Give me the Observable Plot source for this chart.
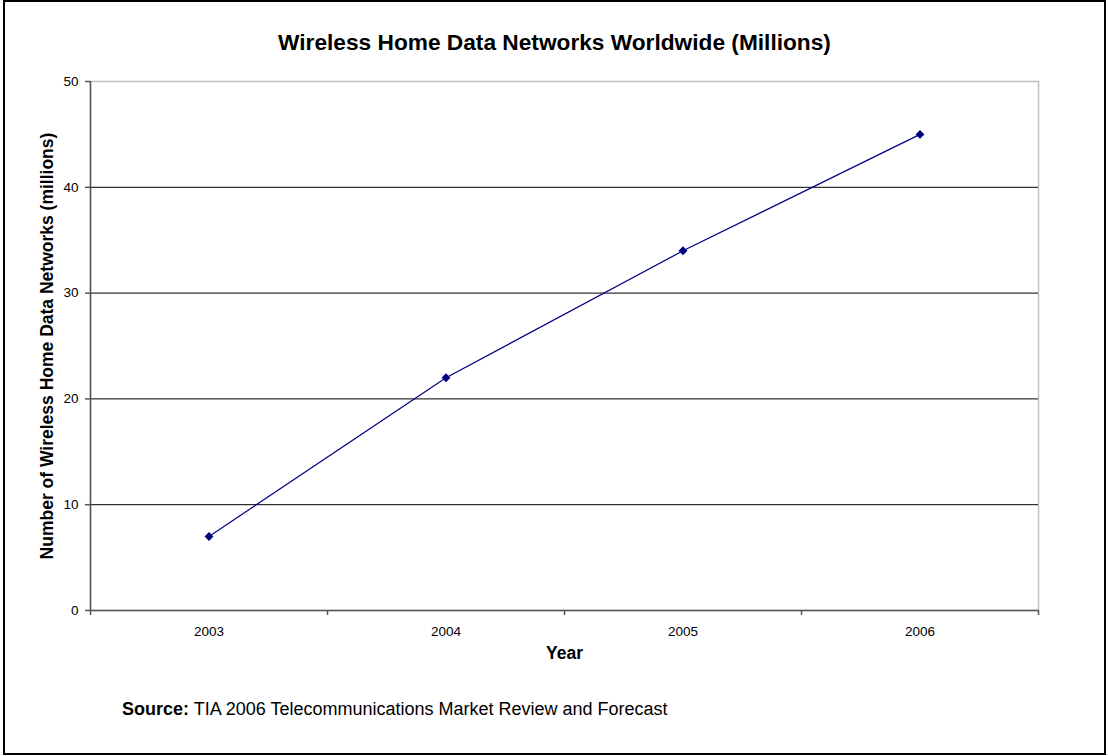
<!DOCTYPE html>
<html><head><meta charset="utf-8">
<script src="https://cdn.jsdelivr.net/npm/d3@7"></script>
<script src="https://cdn.jsdelivr.net/npm/@observablehq/plot@0.6"></script>
<style>
html,body{margin:0;padding:0;background:#fff;}
body{width:1109px;height:756px;position:relative;overflow:hidden;font-family:"Liberation Sans",Arial,sans-serif;color:#000;}
#frame{position:absolute;left:3px;top:0;width:1103px;height:755px;border:2px solid #000;box-sizing:border-box;}
#title{position:absolute;left:0;top:31px;width:1109px;text-align:center;font-weight:bold;font-size:22.7px;line-height:1;white-space:nowrap;}
#chart{position:absolute;left:0;top:60px;}
#source{position:absolute;left:122px;top:700px;font-size:18px;line-height:1;white-space:nowrap;}
</style>
</head><body>
<div id="frame"></div>
<div id="title">Wireless Home Data Networks Worldwide (Millions)</div>
<div id="chart"></div>
<div id="source"><b>Source:</b> TIA 2006 Telecommunications Market Review and Forecast</div>
<script>
const years = [2003, 2004, 2005, 2006];
const networks = [7, 22, 34, 45];
const yTicks = [0, 10, 20, 30, 40, 50];
const yLabel = "Number of Wireless Home Data Networks (millions)";
const xLabel = "Year";

const data = years.map((year, i) => ({year, value: networks[i]}));
const boundaries = [...years.map(y => y - 0.5), years[years.length - 1] + 0.5];
const axisColor = "#555";

const chart = Plot.plot({
  width: 1109, height: 620,
  marginTop: 21, marginBottom: 70, marginLeft: 90, marginRight: 71,
  style: {fontFamily: "Liberation Sans, Arial, sans-serif", fontSize: "13.5px", color: "#000", background: "transparent", overflow: "visible"},
  x: {type: "linear", domain: [boundaries[0], boundaries[boundaries.length - 1]], label: null},
  y: {domain: [yTicks[0], yTicks[yTicks.length - 1]], label: null},
  marks: [
    Plot.frame({stroke: "#c0c0c0", strokeWidth: 1.5}),
    Plot.ruleY(yTicks.slice(1, -1), {stroke: "#000", strokeWidth: 1}),
    Plot.axisY(yTicks, {tickSize: 5, tickPadding: 7, stroke: axisColor, strokeWidth: 1.5, label: null}),
    Plot.axisX(boundaries, {tickSize: 5, tickFormat: () => "", stroke: axisColor, strokeWidth: 1.5, label: null}),
    Plot.axisX(years, {tickSize: 0, tickPadding: 16, tickFormat: d => String(d), label: null}),
    Plot.ruleX([boundaries[0]], {stroke: axisColor, strokeWidth: 1.5}),
    Plot.ruleY([yTicks[0]], {stroke: axisColor, strokeWidth: 1.5}),
    Plot.line(data, {x: "year", y: "value", stroke: "#000080", strokeWidth: 1.2}),
    Plot.dot(data, {x: "year", y: "value", symbol: "diamond2", r: 4, fill: "#000080", stroke: "none"}),
    Plot.text([yLabel], {frameAnchor: "left", textAnchor: "middle", text: d => d, rotate: -90, dx: -43.5, fontWeight: "bold", fontSize: 17.5}),
    Plot.text([xLabel], {frameAnchor: "bottom", text: d => d, dy: 48, fontWeight: "bold", fontSize: 17.5})
  ]
});
document.getElementById("chart").appendChild(chart);
</script>
</body></html>
